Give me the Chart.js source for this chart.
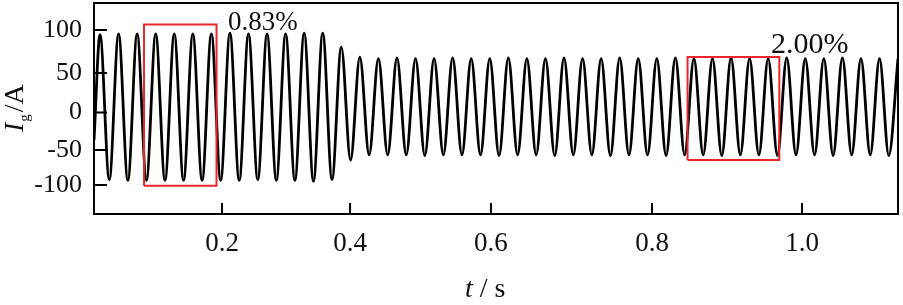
<!DOCTYPE html>
<html>
<head>
<meta charset="utf-8">
<script src="https://cdn.jsdelivr.net/npm/chart.js@4.4.0/dist/chart.umd.min.js"></script>
<style>
body { margin: 0; background: #fff; }
#wrap { width: 903px; height: 305px; position: relative; }
</style>
</head>
<body>
<div id="wrap"><canvas id="igChart"></canvas></div>
<script>
// Tempo (s) dos picos e vales da corrente
const waveTime = [0.0234,
  0.0317, 0.0445, 0.0573, 0.0701, 0.0829, 0.0957, 0.1085, 0.1213, 0.1341, 0.1469,
  0.1597, 0.1725, 0.1853, 0.1981, 0.2109, 0.2237, 0.2365, 0.2493, 0.2621, 0.2749,
  0.2877, 0.3005, 0.3133, 0.3261, 0.3389, 0.3517, 0.3645, 0.3773, 0.3901, 0.4029,
  0.4157, 0.4285, 0.4413, 0.4541, 0.4669, 0.4797, 0.4925, 0.5053, 0.5181, 0.5309,
  0.5437, 0.5565, 0.5693, 0.5821, 0.5949, 0.6077, 0.6205, 0.6333, 0.6461, 0.6589,
  0.6717, 0.6845, 0.6973, 0.7101, 0.7229, 0.7357, 0.7485, 0.7613, 0.7741, 0.7869,
  0.7997, 0.8125, 0.8253, 0.8381, 0.8509, 0.8637, 0.8765, 0.8893, 0.9021, 0.9149,
  0.9277, 0.9405, 0.9533, 0.9661, 0.9789, 0.9917, 1.0045, 1.0173, 1.0301, 1.0429,
  1.0557, 1.0685, 1.0813, 1.0941, 1.1069, 1.1197, 1.1324];

// Corrente Ig (A) em cada ponto acima
const waveCurrent = [-42,
  94, -93, 95, -94, 95, -94, 95, -94, 95, -94,
  95, -94, 95, -94, 96, -94, 95, -93, 95, -94,
  95, -94, 96, -95, 96, -93, 78, -68, 65, -61,
  63, -61, 64, -61, 63, -62, 63, -61, 64, -61,
  63, -61, 63, -62, 64, -61, 63, -61, 63, -62,
  64, -61, 63, -61, 63, -62, 64, -61, 63, -61,
  63, -62, 64, -61, 63, -61, 63, -62, 64, -61,
  63, -61, 63, -62, 64, -61, 63, -61, 63, -62,
  64, -61, 63, -61, 63, -62, 63];

// Eixos
const xTickAt = [0.2, 0.3766, 0.571, 0.7931, 1.0];
const xTickLabels = ['0.2', '0.4', '0.6', '0.8', '1.0'];
const yTickAt = [100, 44.5, -6.5, -54.8, -100];
const yTickLabels = ['100', '50', '0', '-50', '-100'];

// Caixas vermelhas (tempo inicial/final, corrente min/max)
const box1T = [0.0924, 0.1924];
const box1I = [-101, 107];
const box2T = [0.8421, 0.9687];
const box2I = [-67.7, 65.2];

const serif = '"Liberation Serif", "Times New Roman", serif';

function caixa(t, i) {
  return [
    { x: t[0], y: i[0] }, { x: t[1], y: i[0] },
    { x: t[1], y: i[1] }, { x: t[0], y: i[1] },
    { x: t[0], y: i[0] }
  ];
}

// Moldura, ticks internos, títulos e anotações
const molduraPlugin = {
  id: 'moldura',
  afterDraw(chart) {
    const { ctx, chartArea: a } = chart;
    const x = chart.scales.x;
    const y = chart.scales.y;
    ctx.save();
    ctx.strokeStyle = '#000';
    ctx.lineWidth = 2;
    ctx.strokeRect(a.left, a.top, a.right - a.left, a.bottom - a.top);
    ctx.beginPath();
    xTickAt.forEach(v => {
      const px = x.getPixelForValue(v);
      ctx.moveTo(px, a.bottom);
      ctx.lineTo(px, a.bottom - 11);
    });
    yTickAt.forEach(v => {
      const py = y.getPixelForValue(v);
      ctx.moveTo(a.left, py);
      ctx.lineTo(a.left + 13, py);
    });
    ctx.stroke();

    ctx.fillStyle = '#111';
    ctx.textBaseline = 'alphabetic';
    ctx.textAlign = 'left';
    ctx.font = '27px ' + serif;
    ctx.fillText('0.83%', x.getPixelForValue(0.2083), y.getPixelForValue(100));
    ctx.font = '30px ' + serif;
    ctx.fillText('2.00%', x.getPixelForValue(0.9572), y.getPixelForValue(70.3));

    // título x: t / s
    ctx.font = 'italic 28px ' + serif;
    ctx.fillText('t', 465, 297);
    const tw = ctx.measureText('t').width;
    ctx.font = '28px ' + serif;
    ctx.fillText(' / s', 465 + tw, 297);

    // título y: Ig/A
    ctx.translate(23, 132);
    ctx.rotate(-Math.PI / 2);
    ctx.font = 'italic 28px ' + serif;
    ctx.fillText('I', 0, 0);
    const iw = ctx.measureText('I').width;
    ctx.font = '15px ' + serif;
    ctx.fillText('g', iw + 1, 6);
    const gw = ctx.measureText('g').width;
    ctx.font = '28px ' + serif;
    ctx.fillText('/A', iw + gw + 3, 0);
    ctx.restore();
  }
};

new Chart(document.getElementById('igChart'), {
  type: 'line',
  data: {
    datasets: [
      { data: caixa(box1T, box1I), borderColor: '#e8262b', borderWidth: 2, pointRadius: 0, tension: 0, order: 0 },
      { data: caixa(box2T, box2I), borderColor: '#e8262b', borderWidth: 2, pointRadius: 0, tension: 0, order: 0 },
      {
        data: waveTime.map((t, i) => ({ x: t, y: waveCurrent[i] })),
        borderColor: '#000',
        borderWidth: 2.8,
        pointRadius: 0,
        cubicInterpolationMode: 'monotone',
        order: 1
      }
    ]
  },
  options: {
    responsive: true,
    maintainAspectRatio: false,
    animation: false,
    layout: { padding: { top: 3, right: 5, left: 0, bottom: 0 } },
    plugins: { legend: { display: false }, tooltip: { enabled: false } },
    scales: {
      x: {
        type: 'linear',
        min: 0.0234,
        max: 1.1324,
        afterBuildTicks: s => { s.ticks = xTickAt.map(v => ({ value: v })); },
        afterFit: s => { s.height = 91; s.paddingLeft = 0; s.paddingRight = 0; },
        grid: { display: false, drawTicks: false },
        border: { display: false },
        ticks: {
          callback: (v, i) => xTickLabels[i],
          autoSkip: false,
          maxRotation: 0,
          padding: 14,
          color: '#111',
          font: { family: serif, size: 27 }
        }
      },
      y: {
        type: 'linear',
        min: -137.4,
        max: 134.8,
        afterBuildTicks: s => { s.ticks = yTickAt.map(v => ({ value: v })); },
        afterFit: s => { s.width = 94; s.paddingTop = 0; s.paddingBottom = 0; },
        grid: { display: false, drawTicks: false },
        border: { display: false },
        ticks: {
          callback: (v, i) => yTickLabels[i],
          autoSkip: false,
          padding: 12,
          color: '#111',
          font: { family: serif, size: 26 }
        }
      }
    }
  },
  plugins: [molduraPlugin]
});
</script>
</body>
</html>
